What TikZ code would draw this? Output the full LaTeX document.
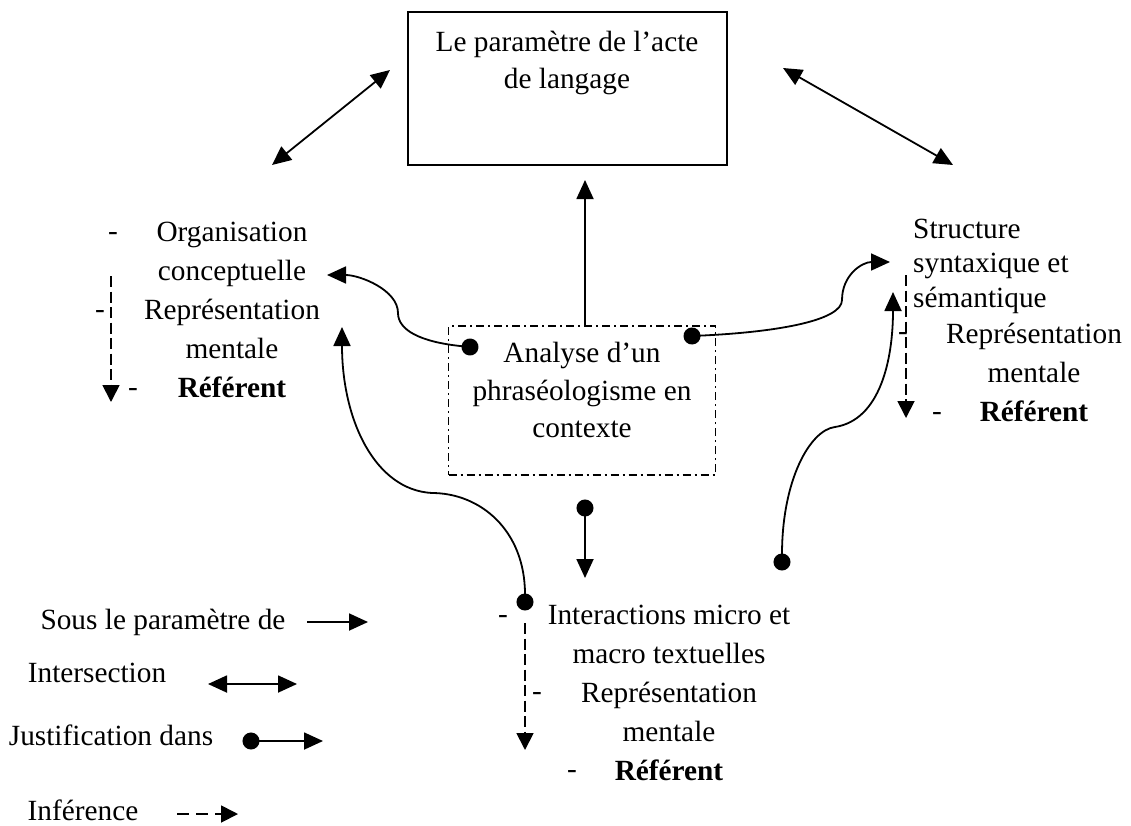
\documentclass[tikz,border=0pt]{standalone}
\usepackage{fontspec}
\setmainfont{Liberation Serif}
\usetikzlibrary{arrows.meta}
\begin{document}
\begin{tikzpicture}[x=1pt,y=-1pt,
  txt/.style={inner sep=0pt, align=center, font=\fontsize{29.3}{39}\selectfont},
  hy/.style={inner sep=0pt, font=\fontsize{29.3}{39}\selectfont},
  conn/.style={line width=1.8pt},
  arr/.style={conn, -{Triangle[length=19pt,width=17pt]}},
  darr/.style={conn, {Triangle[length=19pt,width=17pt]}-{Triangle[length=19pt,width=17pt]}},
  jarr/.style={conn, {Circle[length=17pt]}-{Triangle[length=19pt,width=17pt]}, shorten <=-8.5pt},
  iarr/.style={conn, dash pattern=on 11pt off 4.5pt, -{Triangle[length=17pt,width=17pt]}},
  dbox/.style={draw, line width=1.4pt, dash pattern=on 8pt off 4pt on 2pt off 4pt, inner sep=0pt},
  pbox/.style={draw, line width=1.9pt, inner sep=0pt}]
\useasboundingbox[fill=white] (0,0) rectangle (1131,825);

% top box
\node[pbox, minimum width=319pt, minimum height=153pt] (top) at (567.5,88.5) {};
\node[txt, font=\fontsize{29.3}{37}\selectfont] (toptext) at (567,63) {Le paramètre de l’acte\\de langage};

% central dash-dot box
\node[dbox, minimum width=267pt, minimum height=149pt] (ana) at (582,400.5) {};
\node[txt, font=\fontsize{29.3}{37.5}\selectfont] (anatext) at (582,390) {Analyse d’un\\phraséologisme en\\contexte};

% left block
\node[txt] (orga) at (232,310) {Organisation\\conceptuelle\\Représentation\\mentale\\\textbf{Référent}};
\node[hy] (hl1) at (113,236) {-};
\node[hy] (hl2) at (100,314) {-};
\node[hy] (hl3) at (133,392) {-};

% right block
\node[txt, align=left, anchor=west, font=\fontsize{29.3}{34.5}\selectfont] (struct) at (913,266) {Structure\\syntaxique et\\sémantique};
\node[txt] (rrep) at (1034,372) {Représentation\\mentale\\\textbf{Référent}};
\node[hy] (hr1) at (903,336) {-};
\node[hy] (hr2) at (937,416) {-};

% bottom block
\node[txt] (inter) at (669,693) {Interactions micro et\\macro textuelles\\Représentation\\mentale\\\textbf{Référent}};
\node[hy] (hb1) at (503,619) {-};
\node[hy] (hb2) at (537,696) {-};
\node[hy] (hb3) at (572,774) {-};

% legend
\node[txt] (lg1) at (163,622) {Sous le paramètre de};
\node[txt] (lg2) at (97,673) {Intersection};
\node[txt] (lg3) at (111,735) {Justification dans};
\node[txt] (lg4) at (83,810) {Inférence};

% coordinates
\coordinate (dl1) at (272,165);
\coordinate (dl2) at (390,70);
\coordinate (dr1) at (783,68);
\coordinate (dr2) at (953,165);
\coordinate (upa) at (585,326);
\coordinate (upb) at (585,180);
\coordinate (jl) at (470,347);
\coordinate (jlt) at (327,275);
\coordinate (jr) at (692,336);
\coordinate (jrt) at (890,262);
\coordinate (jb) at (525,602);
\coordinate (jbt) at (342,327);
\coordinate (jc) at (782,562);
\coordinate (jct) at (893,292);
\coordinate (jd) at (585,508);
\coordinate (jdt) at (585,578);
\coordinate (il1) at (111,276);
\coordinate (il2) at (111,402);
\coordinate (ir1) at (906,275);
\coordinate (ir2) at (906,418);
\coordinate (ib1) at (525,623);
\coordinate (ib2) at (525,750);
\coordinate (a1) at (307,622);
\coordinate (a2) at (368,622);
\coordinate (b1) at (208,684);
\coordinate (b2) at (297,684);
\coordinate (c1) at (251,741);
\coordinate (c2) at (323,741);
\coordinate (d1) at (177,814);
\coordinate (d2) at (238,814);

% connectors
\draw[darr] (dl1) -- (dl2);
\draw[darr] (dr1) -- (dr2);
\draw[arr] (upa) -- (upb);
\draw[jarr] (jl) .. controls (420,342) and (398,330) .. (398,313) .. controls (398,290) and (360,275) .. (jlt);
\draw[jarr] (jr) .. controls (780,332) and (842,320) .. (842,300) .. controls (842,275) and (862,262) .. (jrt);
\draw[jarr] (jb) .. controls (525,530) and (480,493) .. (432,493) .. controls (375,490) and (342,420) .. (jbt);
\draw[jarr] (jc) .. controls (782,480) and (810,430) .. (835,427) .. controls (880,420) and (893,360) .. (jct);
\draw[jarr] (jd) -- (jdt);
\draw[iarr] (il1) -- (il2);
\draw[iarr] (ir1) -- (ir2);
\draw[iarr] (ib1) -- (ib2);

% legend arrows
\draw[arr] (a1) -- (a2);
\draw[darr] (b1) -- (b2);
\draw[jarr] (c1) -- (c2);
\draw[iarr, dash pattern=on 12pt off 7pt] (d1) -- (d2);
\end{tikzpicture}
\end{document}
